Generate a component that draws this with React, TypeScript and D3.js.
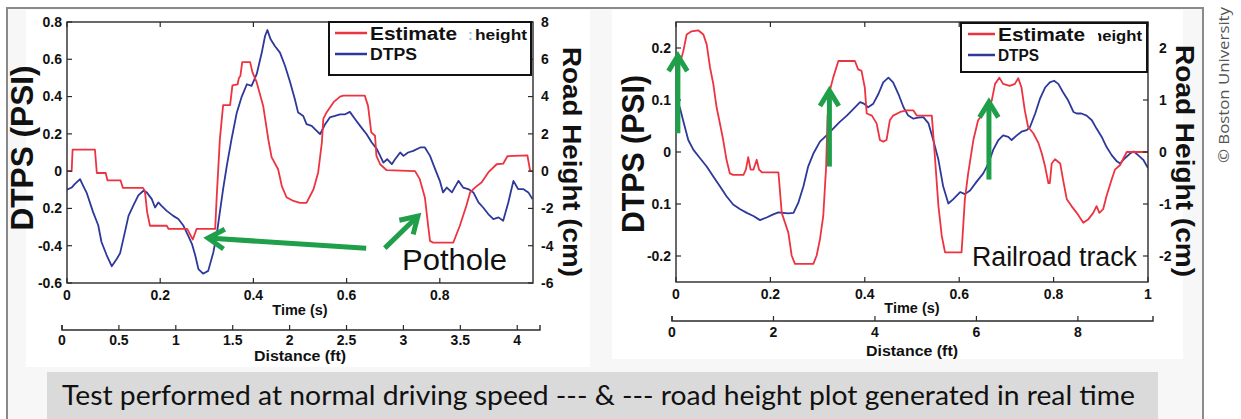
import React from 'react';
import * as d3 from 'd3';

type P = [number, number];

// ---------- data (time s, value) ----------
// Left panel: pothole test. Estimate in cm (right axis), DTPS in PSI (left axis)
const potholeEstimate: P[] = [
  [0, 0], [0.010, 0], [0.012, 1.15], [0.060, 1.15], [0.064, -0.1], [0.083, -0.1], [0.087, -0.5],
  [0.115, -0.5], [0.120, -0.9], [0.163, -0.9], [0.167, -1.05], [0.172, -2.2], [0.178, -2.93],
  [0.214, -2.93], [0.218, -3.1], [0.258, -3.1], [0.270, -3.67], [0.278, -3.1], [0.318, -3.1],
  [0.321, -1.5], [0.328, 1.7], [0.335, 3.54], [0.350, 3.54], [0.355, 4.6], [0.366, 4.65],
  [0.369, 5.0], [0.372, 5.1], [0.376, 5.85], [0.393, 5.85], [0.398, 5.3], [0.407, 4.77],
  [0.421, 3.5], [0.432, 1.7], [0.439, 0.75], [0.453, 0.1], [0.461, -0.8], [0.471, -1.4],
  [0.486, -1.6], [0.500, -1.7], [0.514, -1.7], [0.529, -0.97], [0.539, -0.07], [0.547, 1.55],
  [0.550, 2.8], [0.557, 3.15], [0.572, 3.7], [0.586, 4.0], [0.593, 4.05], [0.639, 4.05],
  [0.646, 3.5], [0.653, 2.08], [0.661, 1.9], [0.664, 0.82], [0.672, 0.37], [0.686, 0.05],
  [0.747, 0.0], [0.757, -0.43], [0.768, -1.41], [0.775, -2.93], [0.779, -3.74], [0.785, -3.83],
  [0.829, -3.83], [0.843, -2.93], [0.857, -1.86], [0.865, -1.14], [0.876, -0.87], [0.890, -0.6],
  [0.904, -0.07], [0.922, 0.37], [0.936, 0.4], [0.945, 0.8], [0.988, 0.85], [0.994, 0], [1.0, 0],
];
const potholeDTPS: P[] = [
  [0, -0.1], [0.010, -0.088], [0.0165, -0.07], [0.028, -0.043], [0.035, -0.08], [0.042, -0.115],
  [0.056, -0.22], [0.067, -0.29], [0.074, -0.38], [0.085, -0.45], [0.096, -0.51], [0.107, -0.47],
  [0.114, -0.44], [0.124, -0.33], [0.132, -0.24], [0.142, -0.186], [0.153, -0.13], [0.164, -0.105],
  [0.171, -0.114], [0.182, -0.15], [0.189, -0.195], [0.196, -0.168], [0.203, -0.186], [0.214, -0.213],
  [0.228, -0.24], [0.239, -0.257], [0.250, -0.293], [0.260, -0.346], [0.268, -0.39], [0.275, -0.45],
  [0.282, -0.525], [0.292, -0.55], [0.303, -0.535], [0.314, -0.436], [0.321, -0.346], [0.328, -0.22],
  [0.335, -0.096], [0.343, 0.03], [0.353, 0.17], [0.364, 0.31], [0.375, 0.40], [0.386, 0.466],
  [0.396, 0.457], [0.407, 0.52], [0.418, 0.636], [0.425, 0.725], [0.430, 0.757], [0.437, 0.707],
  [0.446, 0.671], [0.457, 0.636], [0.468, 0.564], [0.479, 0.475], [0.489, 0.386], [0.496, 0.314],
  [0.507, 0.296], [0.514, 0.252], [0.525, 0.243], [0.532, 0.225], [0.543, 0.198], [0.554, 0.252],
  [0.564, 0.288], [0.575, 0.296], [0.586, 0.305], [0.597, 0.305], [0.607, 0.318], [0.618, 0.28],
  [0.629, 0.243], [0.643, 0.198], [0.654, 0.154], [0.665, 0.118], [0.672, 0.082], [0.679, 0.046],
  [0.687, 0.064], [0.697, 0.0375], [0.704, 0.064], [0.715, 0.1], [0.722, 0.082], [0.732, 0.1],
  [0.743, 0.109], [0.758, 0.127], [0.768, 0.127], [0.779, 0.082], [0.790, 0.011], [0.800, -0.052],
  [0.807, -0.114], [0.815, -0.088], [0.826, -0.114], [0.840, -0.052], [0.850, -0.088], [0.861, -0.096],
  [0.872, -0.114], [0.883, -0.168], [0.893, -0.195], [0.904, -0.23], [0.915, -0.257], [0.926, -0.248],
  [0.936, -0.266], [0.947, -0.168], [0.958, -0.052], [0.968, -0.096], [0.979, -0.096], [0.990, -0.114],
  [0.999, -0.15],
];

// Right panel: railroad track test
const railEstimate: P[] = [
  [0, 1.5], [0.004, 1.56], [0.0155, 1.94], [0.0226, 2.26], [0.033, 2.32], [0.047, 2.34], [0.058, 2.26],
  [0.065, 2.07], [0.072, 1.63], [0.079, 1.31], [0.086, 0.86], [0.093, 0.55], [0.100, 0.23], [0.107, -0.15],
  [0.114, -0.41], [0.121, -0.44], [0.143, -0.44], [0.148, -0.34], [0.153, -0.1], [0.158, -0.34],
  [0.164, -0.34], [0.171, -0.15], [0.176, -0.34], [0.182, -0.39], [0.217, -0.39], [0.224, -1.17],
  [0.231, -1.36], [0.238, -1.55], [0.245, -1.99], [0.252, -2.15], [0.291, -2.15], [0.298, -1.99],
  [0.305, -1.68], [0.312, -1.23], [0.316, -0.6], [0.318, -0.3], [0.321, 0.67], [0.326, 1.18],
  [0.333, 1.43], [0.344, 1.75], [0.379, 1.75], [0.386, 1.59], [0.393, 1.56], [0.400, 1.24],
  [0.404, 0.74], [0.415, 0.7], [0.425, 0.55], [0.432, 0.23], [0.439, 0.2], [0.446, 0.23], [0.453, 0.61],
  [0.460, 0.7], [0.475, 0.77], [0.489, 0.8], [0.503, 0.8], [0.510, 0.7], [0.542, 0.7], [0.549, -0.15],
  [0.556, -1.04], [0.563, -1.61], [0.570, -1.93], [0.605, -1.93], [0.612, -0.91], [0.619, -0.41],
  [0.630, 0.23], [0.640, 0.61], [0.651, 0.74], [0.662, 0.86], [0.669, 0.99], [0.676, 1.31], [0.685, 1.43],
  [0.693, 1.31], [0.707, 1.27], [0.718, 1.31], [0.725, 1.42], [0.732, 1.24], [0.739, 0.8], [0.746, 0.48],
  [0.757, 0.36], [0.768, 0.17], [0.775, -0.03], [0.782, -0.28], [0.789, -0.6], [0.792, -0.6],
  [0.796, -0.22], [0.803, -0.14], [0.814, -0.22], [0.820, -0.53], [0.828, -0.91], [0.838, -1.04],
  [0.849, -1.17], [0.863, -1.36], [0.873, -1.3], [0.884, -1.17], [0.891, -1.04], [0.897, -1.17],
  [0.905, -1.1], [0.912, -0.85], [0.923, -0.53], [0.930, -0.34], [0.941, -0.25], [0.948, -0.12],
  [0.955, 0], [1.0, 0],
];
const railDTPS: P[] = [
  [0.001, 0.099], [0.008, 0.086], [0.015, 0.061], [0.026, 0.023], [0.037, 0.004], [0.051, -0.012],
  [0.065, -0.028], [0.079, -0.047], [0.093, -0.066], [0.107, -0.085], [0.121, -0.101], [0.136, -0.11],
  [0.150, -0.117], [0.164, -0.123], [0.178, -0.131], [0.192, -0.126], [0.206, -0.12], [0.217, -0.116],
  [0.227, -0.117], [0.238, -0.118], [0.249, -0.117], [0.259, -0.098], [0.270, -0.066], [0.280, -0.028],
  [0.291, -0.003], [0.305, 0.02], [0.319, 0.032], [0.333, 0.045], [0.347, 0.058], [0.362, 0.07],
  [0.376, 0.083], [0.390, 0.096], [0.398, 0.093], [0.407, 0.086], [0.418, 0.093], [0.429, 0.112],
  [0.439, 0.134], [0.450, 0.143], [0.460, 0.134], [0.471, 0.112], [0.482, 0.086], [0.492, 0.07],
  [0.503, 0.064], [0.513, 0.066], [0.524, 0.067], [0.535, 0.055], [0.545, 0.023], [0.556, -0.015],
  [0.566, -0.066], [0.577, -0.099], [0.587, -0.091], [0.602, -0.077], [0.612, -0.081], [0.623, -0.074],
  [0.637, -0.057], [0.651, -0.041], [0.662, -0.022], [0.672, 0.004], [0.683, 0.023], [0.693, 0.032],
  [0.704, 0.029], [0.711, 0.023], [0.722, 0.032], [0.732, 0.039], [0.743, 0.042], [0.750, 0.048],
  [0.761, 0.074], [0.771, 0.102], [0.782, 0.124], [0.792, 0.134], [0.801, 0.137], [0.810, 0.131],
  [0.820, 0.115], [0.831, 0.099], [0.842, 0.077], [0.849, 0.074], [0.859, 0.074], [0.870, 0.07],
  [0.881, 0.061], [0.891, 0.045], [0.902, 0.029], [0.912, 0.01], [0.923, -0.006], [0.934, -0.018],
  [0.941, -0.022], [0.951, -0.012], [0.962, -0.003], [0.970, 0.001], [0.979, -0.006], [0.990, -0.015],
  [1.0, -0.031],
];

// ---------- ticks / labels ----------
const potholeYTicks = [0.8, 0.6, 0.4, 0.2, 0, -0.2, -0.4, -0.6];
const potholeYLabels = ['0.8', '0.6', '0.4', '0.2', '0', '0.2', '-0.4', '-0.6'];
const potholeRTicks = [8, 6, 4, 2, 0, -2, -4, -6];
const potholeTimeTicks = [0, 0.2, 0.4, 0.6, 0.8];
const potholeDistTicks = [0, 0.5, 1, 1.5, 2, 2.5, 3, 3.5, 4];

const railYTicks = [0.2, 0.1, 0, -0.1, -0.2];
const railYLabels = ['0.2', '0.1', '0', '0.1', '-0.2'];
const railRTicks = [2, 1, 0, -1, -2];
const railTimeTicks = [0, 0.2, 0.4, 0.6, 0.8, 1];
const railDistTicks = [0, 2, 4, 6, 8];

// annotation arrows [tail, tip] in (time, PSI)
const potholeArrows: [P, P][] = [
  [[0.642, -0.413], [0.3026, -0.359]],
  [[0.682, -0.413], [0.753, -0.241]],
];
const railArrows: [P, P][] = [
  [[0.004, 0.036], [0.004, 0.185]],
  [[0.325, -0.028], [0.325, 0.118]],
  [[0.663, -0.053], [0.663, 0.096]],
];

const caption = 'Test performed at normal driving speed --- & --- road height plot generated in real time';

const RED = '#ee3340';
const BLUE = '#2d389b';
const GREEN = '#1f9f4a';
const AX = '#2a2a2a';
const FONT = '"Liberation Sans", Arial, Helvetica, sans-serif';

type PanelProps = {
  id: string;
  x0: number; x1: number; y0: number; y1: number;
  xMax: number;
  yDom: [number, number]; rDom: [number, number];
  est: P[]; dtps: P[];
  yTicks: number[]; yLabels: string[]; rTicks: number[];
  timeTicks: number[]; distTicks: number[]; distMax: number;
  distX0: number; distX1: number; distY: number;
  timeLabelY: number; timeTitleY: number; distLabelY: number; distTitleY: number;
  rLabelX: number;
  yTitleX: number; yTitleY: number; yTitleLen: number;
  rTitleX: number; rTitleY: number; rTitleLen: number;
  leg: { x0: number; x1: number; y0: number; y1: number; lx0: number; lx1: number; tx: number; estLen: number; hx: number; hLen: number; clipH: number | null; dtpsLen: number; showColon: boolean };
  arrows: [P, P][]; headLen: number;
  note: string; noteT: number; noteV: number; noteSize: number; noteLen: number;
  bg: { x: number; y: number; w: number; h: number };
};

function arrowHead(tail: [number, number], tip: [number, number], len: number, spread: number) {
  const a = Math.atan2(tip[1] - tail[1], tip[0] - tail[0]);
  const p1 = [tip[0] - len * Math.cos(a - spread), tip[1] - len * Math.sin(a - spread)];
  const p2 = [tip[0] - len * Math.cos(a + spread), tip[1] - len * Math.sin(a + spread)];
  return `M${p1[0]},${p1[1]}L${tip[0]},${tip[1]}L${p2[0]},${p2[1]}`;
}

function Panel(p: PanelProps) {
  const x = d3.scaleLinear().domain([0, p.xMax]).range([p.x0, p.x1]);
  const y = d3.scaleLinear().domain(p.yDom).range([p.y1, p.y0]);
  const yr = d3.scaleLinear().domain(p.rDom).range([p.y1, p.y0]);
  const dx = d3.scaleLinear().domain([0, p.distMax]).range([p.distX0, p.distX1]);
  const estLine = d3.line<P>().x(d => x(d[0])).y(d => yr(d[1]));
  const dtpsLine = d3.line<P>().x(d => x(d[0])).y(d => y(d[1]));
  const tk = 5;
  const L = p.leg;
  return (
    <g>
      <rect x={p.bg.x} y={p.bg.y} width={p.bg.w} height={p.bg.h} fill="#ffffff" />
      <clipPath id={`clip-${p.id}`}>
        <rect x={p.x0} y={p.y0} width={p.x1 - p.x0} height={p.y1 - p.y0} />
      </clipPath>
      <g clipPath={`url(#clip-${p.id})`}>
        <path d={dtpsLine(p.dtps) || ''} fill="none" stroke={BLUE} strokeWidth={1.8} strokeLinejoin="round" />
        <path d={estLine(p.est) || ''} fill="none" stroke={RED} strokeWidth={1.8} strokeLinejoin="round" />
      </g>
      {/* frame */}
      <rect x={p.x0} y={p.y0} width={p.x1 - p.x0} height={p.y1 - p.y0} fill="none" stroke={AX} strokeWidth={1.4} />
      {/* left ticks */}
      {p.yTicks.map((v, i) => (
        <g key={`yl${i}`}>
          <line x1={p.x0} x2={p.x0 + tk} y1={y(v)} y2={y(v)} stroke={AX} strokeWidth={1.2} />
          <text x={p.x0 - 5} y={y(v)} dy="0.35em" textAnchor="end" fontFamily={FONT} fontWeight="bold" fontSize={14} fill="#111">{p.yLabels[i]}</text>
        </g>
      ))}
      {/* right ticks */}
      {p.rTicks.map((v, i) => (
        <g key={`yr${i}`}>
          <line x1={p.x1} x2={p.x1 - tk} y1={yr(v)} y2={yr(v)} stroke={AX} strokeWidth={1.2} />
          <text x={p.rLabelX} y={yr(v)} dy="0.35em" textAnchor="start" fontFamily={FONT} fontWeight="bold" fontSize={14} fill="#111">{String(v)}</text>
        </g>
      ))}
      {/* time ticks */}
      {p.timeTicks.map((v, i) => (
        <g key={`t${i}`}>
          <line x1={x(v)} x2={x(v)} y1={p.y1} y2={p.y1 - tk} stroke={AX} strokeWidth={1.2} />
          <line x1={x(v)} x2={x(v)} y1={p.y0} y2={p.y0 + tk} stroke={AX} strokeWidth={1.2} />
          <text x={x(v)} y={p.timeLabelY} textAnchor="middle" fontFamily={FONT} fontWeight="bold" fontSize={14} fill="#111">{String(v)}</text>
        </g>
      ))}
      <text x={(p.x0 + p.x1) / 2} y={p.timeTitleY} textAnchor="middle" fontFamily={FONT} fontWeight="bold" fontSize={14.5} fill="#111">Time (s)</text>
      {/* distance axis */}
      <path d={`M${dx(0)},${p.distY - 5}V${p.distY}H${dx(p.distMax)}V${p.distY - 5}`} fill="none" stroke={AX} strokeWidth={1.4} />
      {p.distTicks.map((v, i) => (
        <g key={`d${i}`}>
          <line x1={dx(v)} x2={dx(v)} y1={p.distY} y2={p.distY - 5} stroke={AX} strokeWidth={1.2} />
          <text x={dx(v)} y={p.distLabelY} textAnchor="middle" fontFamily={FONT} fontWeight="bold" fontSize={14} fill="#111">{String(v)}</text>
        </g>
      ))}
      <text x={(p.x0 + p.x1) / 2} y={p.distTitleY} textAnchor="middle" fontFamily={FONT} fontWeight="bold" fontSize={14} fill="#111" textLength={92} lengthAdjust="spacingAndGlyphs">Distance (ft)</text>
      {/* axis titles */}
      <text transform={`translate(${p.yTitleX},${p.yTitleY}) rotate(-90)`} textAnchor="middle" dy="0.35em" fontFamily={FONT} fontWeight="bold" fontSize={32} fill="#111" textLength={p.yTitleLen} lengthAdjust="spacingAndGlyphs">DTPS (PSI)</text>
      <text transform={`translate(${p.rTitleX},${p.rTitleY}) rotate(90)`} textAnchor="middle" dy="0.35em" fontFamily={FONT} fontWeight="bold" fontSize={25} fill="#111" textLength={p.rTitleLen} lengthAdjust="spacingAndGlyphs">Road Height (cm)</text>
      {/* arrows */}
      {p.arrows.map((a, i) => {
        const tail: [number, number] = [x(a[0][0]), y(a[0][1])];
        const tip: [number, number] = [x(a[1][0]), y(a[1][1])];
        return (
          <g key={`a${i}`} stroke={GREEN} strokeWidth={5} fill="none" strokeLinecap="butt">
            <line x1={tail[0]} y1={tail[1]} x2={tip[0]} y2={tip[1]} />
            <path d={arrowHead(tail, tip, p.headLen, 0.55)} strokeLinejoin="miter" />
          </g>
        );
      })}
      <text x={x(p.noteT)} y={y(p.noteV)} fontFamily={FONT} fontSize={p.noteSize} fill="#111" textLength={p.noteLen} lengthAdjust="spacingAndGlyphs">{p.note}</text>
      {/* legend */}
      <rect x={L.x0} y={L.y0} width={L.x1 - L.x0} height={L.y1 - L.y0} fill="#fff" stroke="#111" strokeWidth={2} />
      <line x1={L.lx0} x2={L.lx1} y1={L.y0 + 11} y2={L.y0 + 11} stroke={RED} strokeWidth={2.5} />
      <line x1={L.lx0} x2={L.lx1} y1={L.y0 + 32} y2={L.y0 + 32} stroke={BLUE} strokeWidth={2.5} />
      <text x={L.tx} y={L.y0 + 18} fontFamily={FONT} fontWeight="bold" fontSize={18} fill="#111" textLength={L.estLen} lengthAdjust="spacingAndGlyphs">Estimate</text>
      {L.showColon && <text x={L.hx - 7} y={L.y0 + 18} fontFamily={FONT} fontWeight="bold" fontSize={14} fill="#8cc8e8">:</text>}
      <clipPath id={`hclip-${p.id}`}>
        <rect x={L.clipH ?? L.hx} y={L.y0} width={L.x1 - (L.clipH ?? L.hx)} height={L.y1 - L.y0} />
      </clipPath>
      <text x={L.hx} y={L.y0 + 18} fontFamily={FONT} fontWeight="bold" fontSize={15} fill="#111" textLength={L.hLen} lengthAdjust="spacingAndGlyphs" clipPath={`url(#hclip-${p.id})`}>height</text>
      <text x={L.tx} y={L.y0 + 38} fontFamily={FONT} fontWeight="bold" fontSize={16} fill="#111" textLength={L.dtpsLen} lengthAdjust="spacingAndGlyphs">DTPS</text>
    </g>
  );
}

export default function App() {
  return (
    <svg width={1241} height={419} style={{ position: 'absolute', left: 0, top: 0, background: '#ffffff' }}>
      <rect x={0} y={0} width={1241} height={419} fill="#ffffff" />
      <rect x={7} y={8} width={1196} height={440} fill="#f7f7f7" stroke="#8a8a8a" strokeWidth={2} />
      <Panel
        id="pothole" x0={67} x1={533} y0={22} y1={283} xMax={1}
        yDom={[-0.6, 0.8]} rDom={[-6, 8]}
        est={potholeEstimate} dtps={potholeDTPS}
        yTicks={potholeYTicks} yLabels={potholeYLabels} rTicks={potholeRTicks}
        timeTicks={potholeTimeTicks} distTicks={potholeDistTicks} distMax={4.2}
        distX0={62} distX1={540} distY={330}
        timeLabelY={300} timeTitleY={315} distLabelY={345} distTitleY={361}
        rLabelX={541}
        yTitleX={22} yTitleY={148} yTitleLen={165}
        rTitleX={572} rTitleY={162} rTitleLen={230}
        leg={{ x0: 329, x1: 531, y0: 22, y1: 75, lx0: 335, lx1: 367, tx: 370, estLen: 87, hx: 475, hLen: 52, clipH: null, dtpsLen: 47, showColon: true }}
        arrows={potholeArrows} headLen={19}
        note="Pothole" noteT={0.719} noteV={-0.531} noteSize={30} noteLen={105}
        bg={{ x: 26, y: 10, w: 564, h: 357 }}
      />
      <Panel
        id="rail" x0={676} x1={1148} y0={22} y1={282} xMax={1}
        yDom={[-0.25, 0.25]} rDom={[-2.5, 2.5]}
        est={railEstimate} dtps={railDTPS}
        yTicks={railYTicks} yLabels={railYLabels} rTicks={railRTicks}
        timeTicks={railTimeTicks} distTicks={railDistTicks} distMax={9.48}
        distX0={672} distX1={1153} distY={321}
        timeLabelY={299} timeTitleY={313} distLabelY={337} distTitleY={356}
        rLabelX={1159}
        yTitleX={633} yTitleY={154} yTitleLen={158}
        rTitleX={1185} rTitleY={161} rTitleLen={232}
        leg={{ x0: 961, x1: 1147, y0: 23, y1: 72, lx0: 968, lx1: 995, tx: 998, estLen: 87, hx: 1092, hLen: 50, clipH: 1098, dtpsLen: 41, showColon: false }}
        arrows={railArrows} headLen={18}
        note="Railroad track" noteT={0.627} noteV={-0.219} noteSize={27} noteLen={165}
        bg={{ x: 612, y: 10, w: 571, h: 349 }}
      />
      {/* caption band */}
      <rect x={47} y={372} width={1111} height={47} fill="#dadada" />
      <text x={62} y={405} fontFamily='Lato, "Open Sans", sans-serif' fontSize={27} fill="#111" textLength={1073} lengthAdjust="spacingAndGlyphs">{caption}</text>
      <text transform="translate(1229,85) rotate(-90)" textAnchor="middle" fontFamily='"Open Sans", Lato, sans-serif' fontSize={15} fill="#555" textLength={156} lengthAdjust="spacingAndGlyphs">© Boston University</text>
    </svg>
  );
}
